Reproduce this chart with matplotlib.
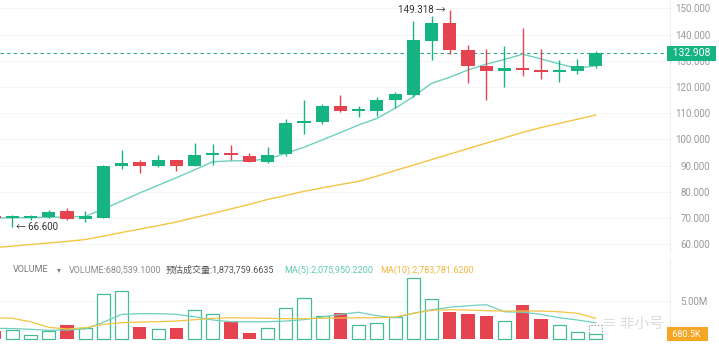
import numpy as np
import matplotlib
matplotlib.use("Agg")
import matplotlib.pyplot as plt
from matplotlib.transforms import blended_transform_factory

plt.rcParams["font.family"] = ["Roboto", "Noto Sans CJK SC", "DejaVu Sans"]

# candles
opens = [70.4, 70.0, 70.1, 70.4, 72.7, 69.8, 70.2, 89.9, 91.2, 89.9, 92.0, 89.9,
         94.2, 94.5, 93.8, 91.4, 94.4, 106.3, 106.5, 112.7, 110.9, 110.9, 115.0,
         116.9, 137.6, 144.5, 134.0, 128.0, 126.2, 127.4, 126.6, 125.7, 126.2, 128.0]
closes = [70.1, 70.3, 70.4, 72.4, 69.6, 70.7, 89.9, 91.1, 89.9, 92.0, 89.9, 94.2,
          94.6, 94.0, 91.4, 94.2, 106.3, 106.9, 112.7, 110.8, 111.3, 115.2, 117.3,
          137.9, 144.5, 134.1, 127.9, 126.2, 127.4, 126.5, 125.7, 126.3, 128.0, 132.908]
highs = [70.6, 71.0, 71.2, 73.2, 74.0, 72.8, 90.4, 95.9, 92.3, 94.0, 92.3, 98.5,
         98.2, 97.8, 94.9, 97.1, 107.9, 114.9, 113.6, 116.8, 112.7, 116.2, 118.1,
         145.2, 147.0, 149.318, 136.0, 134.5, 135.6, 142.6, 134.6, 130.4, 130.7, 133.9]
lows = [69.8, 66.6, 69.2, 70.1, 69.2, 68.6, 70.0, 88.6, 87.2, 89.6, 88.1, 89.7,
        90.2, 92.1, 91.2, 91.0, 93.8, 102.0, 106.0, 110.3, 108.6, 109.0, 112.1,
        116.3, 130.3, 132.6, 121.5, 115.0, 119.8, 124.1, 122.9, 121.9, 124.9, 127.2]
ma_fast = [70.0, 70.1, 70.2, 70.3, 70.4, 70.6, 73.5, 76.5, 79.6, 82.5, 85.4, 88.4,
           91.5, 91.8, 92.0, 92.4, 94.7, 97.0, 99.8, 102.6, 105.5, 108.0, 111.9,
           116.3, 121.4, 123.7, 126.5, 128.7, 130.5, 132.5, 130.7, 128.8, 127.1, 128.1]
ma_slow = [58.7, 59.3, 59.9, 60.5, 61.1, 61.8, 63.1, 64.5, 65.8, 67.1, 68.5, 70.2,
           71.8, 73.5, 75.2, 77.1, 78.6, 80.2, 81.5, 82.8, 84.0, 86.0, 88.1, 90.2,
           92.3, 94.4, 96.5, 98.6, 100.6, 102.7, 104.5, 106.1, 107.7, 109.3]
price_ticks = [60, 70, 80, 90, 100, 110, 120, 130, 140, 150]

# volume, millions
vols = [1.15, 1.28, 0.60, 1.15, 1.92, 1.50, 5.77, 6.28, 1.54, 1.41, 1.45, 3.76,
        3.29, 2.27, 0.86, 1.45, 4.06, 5.29, 3.04, 3.42, 1.83, 2.14, 2.86, 7.91,
        5.13, 3.55, 3.29, 3.04, 2.35, 4.36, 2.69, 1.88, 0.99, 0.680539]
est_last = 1.8737596635
vol_ma5 = [1.44, 1.40, 1.31, 1.18, 1.22, 1.35, 2.21, 3.23, 3.31, 3.31, 3.23, 2.92,
           2.50, 2.28, 2.28, 2.28, 2.37, 2.54, 2.88, 3.23, 3.49, 3.05, 2.79, 3.36,
           3.82, 4.13, 4.33, 4.46, 3.56, 3.49, 3.23, 2.79, 2.50, 2.15]
vol_ma10 = [2.79, 2.72, 2.28, 1.56, 1.35, 1.51, 1.94, 2.15, 2.24, 2.28, 2.37, 2.54,
            2.72, 2.79, 2.76, 2.72, 2.67, 2.67, 2.72, 2.76, 2.79, 2.79, 2.88, 3.36,
            3.74, 3.82, 3.78, 3.69, 3.65, 3.65, 3.65, 3.56, 3.36, 2.72]

GREEN = "#16b482"
RED = "#e5434f"
HOLLOW = "#45bb96"
TEAL = "#6fcfbe"
GOLD = "#f4c443"

W, H = 719, 344


def rect(x0, y0, x1, y1):
    return [x0 / W, 1 - y1 / H, (x1 - x0) / W, (y1 - y0) / H]


fig = plt.figure(figsize=(W / 100, H / 100), dpi=100)
ax = fig.add_axes(rect(0, 0, 670, 252))
axv = fig.add_axes(rect(0, 258, 670, 344))

x = np.arange(len(closes))
bw = 0.72

# --- price panel ---
for i in x:
    col = GREEN if closes[i] >= opens[i] else RED
    ax.vlines(i, lows[i], highs[i], color=col, lw=1.0, zorder=3)
    body = max(abs(closes[i] - opens[i]), 0.7)
    ax.bar(i, body, bottom=min(opens[i], closes[i]), width=bw, color=col,
           linewidth=0, zorder=3)
ax.plot(x, ma_fast, color=TEAL, lw=1.0, zorder=2)
ax.plot(x, ma_slow, color=GOLD, lw=1.0, zorder=2)
ax.axhline(closes[-1], color="#2aa684", lw=0.8, ls=(0, (3, 3)), zorder=1)

ax.set_xlim(0.325, 37.08)
ax.set_ylim(57.06, 153.17)
ax.set_xticks([])
ax.yaxis.tick_right()
ax.set_yticks(price_ticks)
ax.set_yticklabels([f"{t:.3f}" for t in price_ticks])
ax.tick_params(axis="y", length=0, pad=29, labelsize=7, labelcolor="#9a9a9a")
for lab in ax.get_yticklabels():
    lab.set_horizontalalignment("right")
ax.grid(True, axis="y", color="#f4f4f4", lw=0.6)
for s in ["top", "left", "bottom"]:
    ax.spines[s].set_visible(False)
ax.spines["right"].set_color("#eeeeee")

tr = blended_transform_factory(ax.transAxes, ax.transData)
ax.text(1.0, closes[-1], f" {closes[-1]:.3f} ", transform=tr, ha="left",
        va="center", fontsize=7.5, color="white", clip_on=False, zorder=6,
        bbox=dict(boxstyle="square,pad=0.25", fc=GREEN, ec="none"))

i_lo = int(np.argmin(lows))
ax.text(i_lo + 0.2, lows[i_lo], f"← {lows[i_lo]:.3f}", ha="left", va="center",
        fontsize=7, color="#333333", zorder=5)
i_hi = int(np.argmax(highs))
ax.text(i_hi - 0.2, highs[i_hi], f"{highs[i_hi]:.3f} →", ha="right",
        va="center", fontsize=7, color="#333333", zorder=5)

# --- volume panel ---
for i in x:
    if i == len(x) - 1:
        axv.bar(i, est_last, width=bw, facecolor="none", edgecolor="#9aa6a2",
                lw=0.8, ls=(0, (1.5, 1.5)), zorder=3)
    if closes[i] >= opens[i]:
        axv.bar(i, vols[i], width=bw, facecolor="white", edgecolor=HOLLOW,
                lw=0.9, zorder=3)
    else:
        axv.bar(i, vols[i], width=bw, color=RED, linewidth=0, zorder=3)
axv.plot(x, vol_ma5, color=TEAL, lw=0.9, zorder=4)
axv.plot(x, vol_ma10, color=GOLD, lw=0.9, zorder=4)
axv.set_xlim(0.325, 37.08)
axv.set_ylim(-0.577, 10.45)
axv.set_xticks([])
axv.yaxis.tick_right()
axv.set_yticks([5])
axv.set_yticklabels(["5.00M"])
axv.tick_params(axis="y", length=0, pad=27, labelsize=7, labelcolor="#9a9a9a")
for lab in axv.get_yticklabels():
    lab.set_horizontalalignment("right")
axv.grid(True, axis="y", color="#f4f4f4", lw=0.6)
for s in ["top", "left", "bottom"]:
    axv.spines[s].set_visible(False)
axv.spines["right"].set_color("#eeeeee")

trv = blended_transform_factory(axv.transAxes, axv.transData)
axv.text(1.0, vols[-1], " 680.5K  ", transform=trv, ha="left", va="center",
         fontsize=6.5, color="white", clip_on=False, zorder=6,
         bbox=dict(boxstyle="square,pad=0.3", fc="#f5a623", ec="none"))

# watermark, kept just left of the volume label
fig.text(664 / W, 1 - 324 / H, "≡ 非小号", ha="right", va="center",
         fontsize=10.5, color="#cfcfcf", alpha=0.75,
         family=["Noto Sans CJK SC", "DejaVu Sans"], zorder=10)

# volume header
hy = 1 - 270 / H
fs = 6.5
fig.text(13 / W, hy, "VOLUME", fontsize=fs, color="#7a7a7a", va="center")
fig.text(57 / W, hy, "▾", fontsize=5.5, color="#7a7a7a", va="center",
         family=["DejaVu Sans"])
fig.text(69 / W, hy, "VOLUME:680,539.1000", fontsize=fs, color="#8a8a8a", va="center")
fig.text(166 / W, hy, "预估成交量:1,873,759.6635", fontsize=fs, color="#555555",
         va="center")
fig.text(284 / W, hy, "MA(5):2,075,950.2200", fontsize=fs, color="#5fc9b3", va="center")
fig.text(380 / W, hy, "MA(10):2,783,781.6200", fontsize=fs, color="#f0b63c",
         va="center")

fig.savefig("out.png", dpi=100)
